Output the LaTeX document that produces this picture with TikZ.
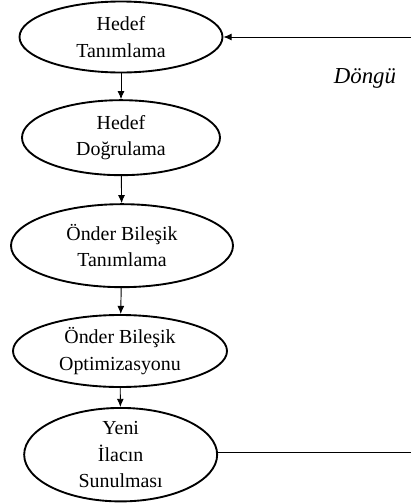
\documentclass[tikz,border=0pt]{standalone}
\usepackage{fontspec}
\setmainfont{Liberation Serif}
\usepackage{tikz}
\usetikzlibrary{shapes.geometric,arrows.meta}

\begin{document}
\begin{tikzpicture}[
	stage/.style={ellipse,draw,line width=1.6pt,inner sep=0pt,align=center,font=\fontsize{17}{22.5}\selectfont},
	flow/.style={-{Latex[length=7pt,width=6pt]},line width=0.8pt}
	]
	\useasboundingbox (0,0) rectangle (12.33,-15.09);
	\node[stage,minimum width=6.09cm,minimum height=2.13cm] (hedef) at (3.63,-1.11) {Hedef\\Tanımlama};
	\node[stage,minimum width=5.94cm,minimum height=2.25cm] (dogrulama) at (3.63,-4.13) {Hedef\\Doğrulama};
	\node[stage,minimum width=6.66cm,minimum height=2.49cm] (onder) at (3.66,-7.37) {Önder Bileşik\\Tanımlama};
	\node[stage,minimum width=6.42cm,minimum height=2.16cm] (optim) at (3.60,-10.53) {Önder Bileşik\\Optimizasyonu};
	\node[stage,minimum width=5.79cm,minimum height=2.55cm] (ilac) at (3.62,-13.64) {Yeni\\İlacın\\Sunulması};
	\node[font=\fontsize{19.5}{22}\selectfont\itshape] (dongu) at (10.95,-2.34) {Döngü};
	\coordinate (geri) at (12.33,-13.58);
	\coordinate (ileri) at (12.33,-1.11);
	
	\draw[flow] (hedef) -- (dogrulama);
	\draw[flow] (dogrulama) -- (onder);
	\draw[flow] (onder) -- (optim);
	\draw[flow] (optim) -- (ilac);
	\draw[line width=0.8pt] (ilac.east |- geri) -- (geri);
	\draw[flow] (ileri) -- (hedef);
	
\end{tikzpicture}
\end{document}
